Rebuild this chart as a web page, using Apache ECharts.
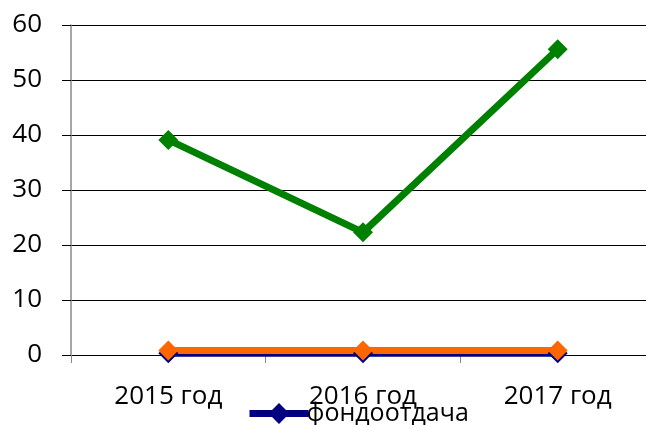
<!DOCTYPE html>
<html>
<head>
<meta charset="utf-8">
<script src="https://cdn.jsdelivr.net/npm/echarts@6/dist/echarts.min.js"></script>
<style>
  html, body { margin: 0; padding: 0; background: #fff; }
  #chart { width: 646px; height: 425px; }
</style>
</head>
<body>
<div id="chart"></div>
<script>
  // данные
  const years = ['2015 год', '2016 год', '2017 год']
  const fondootdacha = [0.3, 0.3, 0.3]
  const orangeSeries = [0.8, 0.8, 0.8]
  const greenSeries = [39.1, 22.3, 55.6]

  const FONT = 'Open Sans'

  let myChart = echarts.init(document.getElementById('chart'))

  function lineSeries(name, color, data) {
    return {
      name: name,
      type: 'line',
      symbol: 'diamond',
      symbolSize: 20,
      showAllSymbol: true,
      lineStyle: { width: 7, color: color },
      itemStyle: { color: color },
      emphasis: { disabled: true },
      animation: false,
      data: data
    }
  }

  myChart.setOption({
    backgroundColor: '#fff',
    animation: false,
    grid: {
      left: 71,
      top: 25,
      width: 584,
      height: 330,
      outerBoundsMode: 'none'
    },
    legend: {
      left: 246,
      top: 401,
      padding: 0,
      itemWidth: 59,
      itemHeight: 26,
      data: ['фондоотдача'],
      lineStyle: { width: 7 },
      textStyle: {
        fontFamily: FONT,
        fontSize: 25,
        color: '#000',
        padding: [4, 0, 0, -7]
      }
    },
    xAxis: {
      type: 'category',
      data: years,
      boundaryGap: true,
      axisLine: { show: true, lineStyle: { color: '#000', width: 1 } },
      axisTick: { show: true, length: 8, lineStyle: { color: '#888' } },
      axisLabel: {
        margin: 29,
        fontFamily: FONT,
        fontSize: 26,
        color: '#000'
      },
      splitLine: { show: false }
    },
    yAxis: {
      type: 'value',
      min: 0,
      max: 60,
      interval: 10,
      axisLine: { show: true, lineStyle: { color: '#888', width: 1.5 } },
      axisTick: { show: true, length: 9, lineStyle: { color: '#000' } },
      axisLabel: {
        margin: 29,
        fontFamily: FONT,
        fontSize: 26,
        color: '#000'
      },
      splitLine: { show: true, lineStyle: { color: '#000', width: 1 } }
    },
    series: [
      lineSeries('фондоотдача', '#000080', fondootdacha),
      lineSeries('ряд2', '#FF6600', orangeSeries),
      lineSeries('ряд3', '#008000', greenSeries)
    ]
  })
</script>
</body>
</html>
